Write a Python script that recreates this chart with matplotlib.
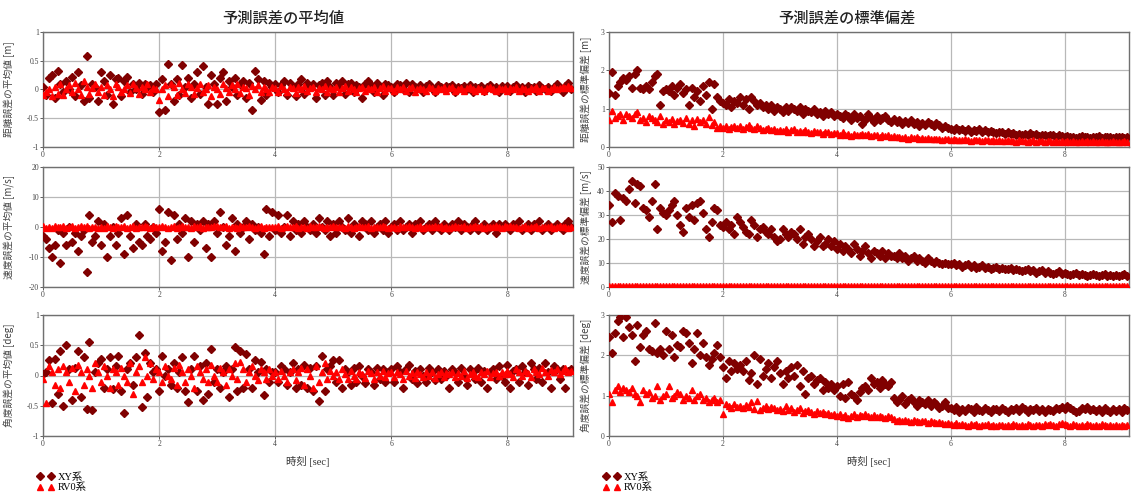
import numpy as np
import matplotlib.pyplot as plt
from matplotlib.ticker import FuncFormatter

plt.rcParams['font.family'] = ['Noto Sans CJK JP', 'DejaVu Sans']

dt = 0.05  # サンプル間隔 [sec]

# 左列: 予測誤差の平均値
d_mean_xy = [0.05, -0.1, 0.2, 0.25, -0.15, 0.32, 0.1, -0.05, 0.15, 0.0, 0.22, -0.12, 0.3, 0.08, -0.2, 0.58, -0.15, 0.1, 0.05, -0.2,
             0.3, 0.15, -0.1, 0.25, -0.25, 0.18, 0.2, -0.12, 0.15, 0.22, -0.05, 0.1, 0.0, 0.12, -0.08, 0.1, 0.05, 0.08, -0.05, 0.1,
             -0.4, 0.18, -0.35, 0.45, 0.1, -0.2, 0.18, -0.1, 0.42, 0.05, 0.2, -0.15, 0.1, 0.3, -0.08, 0.4, 0.05, -0.25, 0.25, 0.1,
             -0.25, 0.2, 0.3, -0.2, 0.15, 0.05, 0.2, -0.1, 0.1, 0.15, -0.15, 0.12, -0.35, 0.32, 0.18, -0.18, 0.15, -0.1, 0.12, 0.05,
             0.1, -0.05, 0.08, 0.15, -0.1, 0.12, 0.05, -0.12, 0.1, 0.18, -0.08, 0.12, 0.05, 0.1, -0.15, 0.08, 0.12, -0.1, 0.15, 0.05,
             -0.1, 0.12, 0.05, 0.15, -0.08, 0.1, 0.12, -0.05, 0.08, 0.05, -0.15, 0.1, 0.15, 0.08, -0.05, 0.12, 0.05, -0.1, 0.1, 0.08,
             0.05, -0.05, 0.1, 0.08, 0.0, 0.12, -0.05, 0.1, 0.05, 0.02, 0.08, -0.05, 0.06, 0.1, 0.02, -0.04, 0.08, 0.05, 0.0, 0.06,
             0.04, 0.08, -0.05, 0.05, 0.02, 0.06, 0.0, 0.08, -0.04, 0.05, 0.03, 0.06, -0.03, 0.05, 0.08, 0.0, 0.04, -0.05, 0.06, 0.02,
             0.06, -0.02, 0.05, 0.08, 0.0, 0.04, -0.04, 0.06, 0.02, 0.05, -0.03, 0.07, 0.03, 0.0, 0.05, -0.02, 0.04, 0.1, 0.02, -0.04,
             0.06, 0.12, 0.0]
d_mean_rv = [-0.1, -0.05, 0.0, -0.12, 0.05, -0.08, 0.1, -0.1, 0.0, 0.08, -0.05, 0.12, 0.0, -0.1, 0.15, 0.05, -0.08, 0.02, 0.1, -0.05,
             0.05, -0.1, 0.08, 0.0, -0.12, 0.1, 0.05, -0.05, 0.0, 0.08, -0.06, 0.1, 0.02, -0.08, 0.05, 0.0, 0.1, -0.05, 0.03, 0.0,
             -0.18, 0.0, 0.08, -0.12, 0.1, 0.05, -0.1, 0.12, 0.0, -0.06, 0.1, 0.05, -0.08, 0.02, 0.1, -0.05, 0.0, 0.08, -0.12, 0.05,
             0.0, -0.08, 0.1, 0.02, -0.05, 0.08, 0.0, 0.1, -0.06, 0.05, 0.02, -0.1, 0.06, 0.0, 0.08, -0.04, 0.05, 0.0, -0.05, 0.04,
             0.03, -0.05, 0.06, 0.0, -0.04, 0.05, 0.02, -0.06, 0.04, 0.0, 0.06, -0.03, 0.02, 0.05, -0.05, 0.03, 0.0, 0.06, -0.04, 0.02,
             0.0, 0.05, -0.04, 0.03, 0.06, -0.02, 0.04, 0.0, -0.05, 0.03, 0.05, -0.03, 0.02, 0.0, 0.05, -0.04, 0.03, 0.06, -0.02, 0.02,
             0.03, -0.03, 0.04, 0.0, 0.05, -0.02, 0.02, 0.04, -0.04, 0.01, 0.03, 0.0, -0.03, 0.04, 0.02, -0.02, 0.03, 0.0, 0.04, -0.03,
             0.02, 0.04, -0.02, 0.0, 0.03, -0.03, 0.02, 0.04, 0.0, -0.02, 0.03, 0.01, -0.03, 0.02, 0.04, 0.0, -0.02, 0.03, 0.01, 0.02,
             -0.02, 0.03, 0.0, 0.04, -0.03, 0.02, 0.01, -0.02, 0.03, 0.0, 0.04, -0.02, 0.02, 0.03, -0.03, 0.01, 0.04, 0.0, 0.02, 0.05,
             0.03, 0.06, 0.02]
v_mean_xy = [-3, -4, -7, -10, -6, -1, -12, -2, -6, 0, -5, -2, -8, -3, -1, -15, 4, -5, -3, 2,
             -6, 1, -10, -3, 0, -6, -2, 3, -9, 4, -3, -7, 1, -5, -6, 1, -3, -4, 0, -2,
             6, -8, -5, 5, -11, 4, -4, 1, -2, 3, -10, 2, -5, 1, -1, 2, -7, 1, -10, 2,
             -2, 5, 0, -6, -3, 3, -8, 1, -2, 0, 2, -4, 1, -1, 0, -2, -9, 6, -3, 5,
             -1, 4, -2, 0, 4, -3, 2, -1, 1, -2, 2, 0, -1, 1, -2, 3, 0, -1, 2, -3,
             1, -2, 2, 0, -1, 3, -2, 1, 0, -3, 2, 1, -1, 2, -2, 0, 1, -1, 2, -2,
             0, 1, -1, 2, -1, 0, 1, -2, 1, 0, 2, -1, 0, 1, -1, 2, 0, -1, 1, 0,
             -1, 1, 0, 2, -1, 1, 0, -1, 1, 2, -1, 0, 1, -1, 0, 1, -2, 1, 0, 1,
             0, -1, 1, 0, 2, -1, 0, 1, -1, 1, 0, 2, -1, 0, 1, -1, 0, 1, 0, -1,
             1, 2, 0]
v_mean_rv = [0.2, -0.2, 0.1, -0.3, 0.3, 0.0, -0.1, 0.2, -0.2, 0.1, 0.3, -0.3, 0.0, 0.2, -0.1, 0.3, -0.2, 0.1, 0.0, -0.2,
             0.1, -0.3, 0.2, 0.0, -0.2, 0.3, -0.1, 0.1, 0.2, -0.2, 0.0, 0.3, -0.3, 0.1, -0.1, 0.2, 0.0, -0.2, 0.3, 0.1,
             -0.1, 0.2, 0.0, -0.3, 0.1, 0.3, -0.2, 0.0, 0.2, -0.1, 0.1, -0.3, 0.2, 0.0, 0.3, -0.2, 0.1, -0.1, 0.0, 0.2,
             0.3, -0.1, 0.0, 0.2, -0.2, 0.1, 0.0, -0.3, 0.2, 0.1, -0.1, 0.3, 0.0, -0.2, 0.1, 0.2, -0.3, 0.0, 0.1, -0.1,
             0.0, 0.2, -0.2, 0.1, 0.3, -0.1, 0.0, 0.2, -0.3, 0.1, 0.0, -0.2, 0.2, 0.1, -0.1, 0.3, 0.0, -0.2, 0.1, 0.0,
             0.2, -0.1, 0.1, 0.0, -0.2, 0.3, 0.1, -0.3, 0.0, 0.2, -0.1, 0.1, 0.3, -0.2, 0.0, 0.1, -0.1, 0.2, 0.0, -0.3,
             0.1, 0.0, -0.2, 0.2, 0.1, -0.1, 0.3, 0.0, -0.2, 0.1, 0.2, -0.3, 0.0, 0.1, -0.1, 0.2, 0.0, 0.3, -0.2, 0.1,
             -0.2, 0.1, 0.3, 0.0, -0.1, 0.2, -0.3, 0.1, 0.0, 0.2, -0.1, 0.3, -0.2, 0.0, 0.1, -0.1, 0.2, 0.0, -0.3, 0.2,
             0.0, 0.3, -0.1, 0.1, -0.2, 0.0, 0.2, -0.3, 0.1, 0.0, 0.3, -0.2, 0.1, -0.1, 0.0, 0.2, -0.2, 0.1, 0.3, -0.1,
             0.1, -0.2, 0.0]
a_mean_xy = [0.02, 0.05, 0.25, -0.45, 0.28, -0.3, 0.4, -0.5, 0.5, 0.1, -0.4, 0.12, 0.4, -0.35, 0.3, -0.55, 0.55, -0.57, 0.05, 0.2,
             0.28, -0.2, 0.1, 0.3, -0.22, 0.15, 0.32, -0.25, -0.62, 0.1, 0.2, -0.15, 0.3, 0.67, -0.52, 0.38, -0.35, 0.2, 0.05, 0.1,
             -0.25, 0.32, 0.0, 0.1, -0.15, 0.2, -0.2, 0.05, 0.3, -0.25, -0.43, 0.1, 0.32, -0.25, 0.15, -0.4, 0.2, -0.3, 0.44, -0.1,
             0.1, -0.2, 0.05, 0.15, -0.35, 0.1, 0.47, -0.25, 0.4, -0.2, 0.35, 0.1, -0.2, 0.25, 0.05, 0.22, -0.32, 0.1, -0.1, 0.05,
             0.05, -0.1, 0.15, 0.1, -0.15, 0.05, 0.2, -0.2, 0.1, -0.15, 0.18, -0.2, 0.12, -0.25, 0.15, -0.42, 0.32, -0.25, 0.1, 0.15,
             0.25, -0.1, 0.25, -0.2, 0.1, 0.05, -0.15, 0.12, -0.1, 0.15, 0.0, -0.12, 0.1, 0.05, -0.15, 0.12, -0.05, 0.1, -0.1, 0.05,
             0.1, -0.1, 0.15, 0.05, -0.2, 0.1, 0.18, -0.05, 0.08, -0.12, 0.1, 0.0, -0.1, 0.12, 0.05, -0.08, 0.1, -0.05, 0.08, 0.0,
             -0.2, 0.1, 0.05, -0.1, 0.12, 0.0, -0.15, 0.1, 0.05, -0.05, 0.12, -0.1, 0.08, -0.2, 0.05, 0.1, -0.05, 0.15, 0.0, -0.1,
             0.18, -0.2, 0.08, 0.1, -0.1, 0.15, 0.05, -0.15, 0.2, 0.1, -0.05, 0.12, -0.1, 0.2, 0.05, -0.2, 0.15, 0.1, -0.05, 0.1,
             -0.2, 0.08, 0.1]
a_mean_rv = [-0.05, -0.45, 0.15, 0.05, -0.15, 0.1, -0.2, 0.15, 0.05, -0.1, 0.12, -0.25, 0.18, 0.05, -0.15, 0.1, 0.0, -0.2, 0.2, 0.05,
             -0.1, 0.15, 0.0, -0.2, 0.1, 0.05, -0.15, 0.12, 0.0, -0.1, 0.2, -0.3, 0.05, 0.15, -0.1, 0.3, 0.0, 0.2, -0.05, 0.1,
             0.05, -0.1, 0.15, 0.0, -0.05, 0.12, -0.15, 0.18, 0.05, -0.1, 0.1, 0.0, -0.2, 0.15, 0.05, -0.05, 0.1, -0.1, 0.18, 0.0,
             -0.1, 0.12, 0.05, -0.15, 0.1, 0.0, 0.2, -0.05, 0.22, 0.1, -0.1, 0.05, 0.15, 0.0, -0.08, 0.1, 0.05, -0.05, 0.1, 0.0,
             0.05, -0.05, 0.08, 0.0, -0.1, 0.06, 0.1, -0.08, 0.05, 0.12, -0.15, 0.1, 0.0, -0.2, 0.15, -0.1, 0.05, 0.2, -0.05, 0.08,
             0.0, 0.06, -0.05, 0.1, 0.03, -0.06, 0.08, 0.0, -0.05, 0.06, 0.02, -0.04, 0.08, 0.04, -0.06, 0.05, 0.0, 0.07, -0.03, 0.04,
             0.05, -0.03, 0.06, 0.02, -0.05, 0.07, 0.0, 0.04, -0.04, 0.06, 0.02, -0.02, 0.05, 0.0, 0.06, -0.04, 0.03, 0.05, -0.02, 0.04,
             0.02, 0.06, -0.03, 0.04, 0.0, 0.07, -0.04, 0.03, 0.05, 0.0, -0.03, 0.06, 0.02, 0.08, -0.02, 0.04, 0.06, 0.0, 0.05, 0.02,
             0.07, 0.03, -0.02, 0.1, 0.05, 0.0, 0.08, 0.04, -0.03, 0.1, 0.06, 0.02, 0.12, 0.05, 0.0, 0.09, 0.06, 0.1, 0.03, 0.08,
             0.12, 0.05, 0.08]

# 右列: 予測誤差の標準偏差
d_std_xy = [1.4, 1.95, 1.35, 1.6, 1.7, 1.8, 1.75, 1.85, 1.55, 1.9, 2.0, 1.55, 1.5, 1.6, 1.5, 1.7, 1.85, 1.9, 1.1, 1.45,
            1.5, 1.45, 1.6, 1.35, 1.55, 1.65, 1.4, 1.5, 1.1, 1.55, 1.3, 1.45, 1.2, 1.6, 1.35, 1.7, 1.0, 1.65, 1.3, 1.2,
            1.15, 1.1, 1.25, 1.05, 1.2, 1.15, 1.3, 1.1, 1.25, 1.0, 1.3, 1.2, 1.1, 1.15, 1.05, 1.1, 1.0, 1.1, 0.95, 1.05,
            1.0, 0.9, 1.05, 0.95, 1.05, 1.0, 0.95, 1.05, 0.85, 1.0, 0.95, 0.9, 1.0, 0.85, 0.9, 0.8, 0.95, 0.85, 0.9, 0.8,
            0.85, 0.8, 0.75, 0.85, 0.8, 0.7, 0.85, 0.75, 0.8, 0.6, 0.7, 0.85, 0.75, 0.65, 0.8, 0.7, 0.75, 0.8, 0.7, 0.65,
            0.72, 0.65, 0.7, 0.6, 0.68, 0.62, 0.7, 0.6, 0.65, 0.55, 0.62, 0.58, 0.66, 0.6, 0.55, 0.62, 0.58, 0.5, 0.55, 0.5,
            0.48, 0.45, 0.5, 0.44, 0.48, 0.42, 0.46, 0.4, 0.45, 0.42, 0.46, 0.4, 0.44, 0.38, 0.42, 0.4, 0.36, 0.4, 0.38, 0.35,
            0.38, 0.34, 0.36, 0.32, 0.35, 0.3, 0.34, 0.32, 0.36, 0.3, 0.33, 0.29, 0.32, 0.3, 0.28, 0.32, 0.3, 0.27, 0.3, 0.28,
            0.26, 0.28, 0.25, 0.27, 0.24, 0.26, 0.28, 0.25, 0.27, 0.24, 0.26, 0.25, 0.28, 0.24, 0.26, 0.27, 0.25, 0.23, 0.26, 0.25,
            0.27, 0.24, 0.26]
d_std_rv = [0.7, 0.95, 0.75, 0.8, 0.85, 0.7, 0.85, 0.8, 0.75, 0.85, 0.9, 0.7, 0.75, 0.65, 0.8, 0.75, 0.7, 0.65, 0.8, 0.6,
            0.7, 0.65, 0.72, 0.6, 0.68, 0.7, 0.62, 0.75, 0.6, 0.7, 0.55, 0.72, 0.65, 0.7, 0.6, 0.78, 0.58, 0.65, 0.5, 0.55,
            0.5, 0.55, 0.48, 0.52, 0.56, 0.5, 0.54, 0.47, 0.52, 0.58, 0.5, 0.48, 0.55, 0.5, 0.45, 0.48, 0.5, 0.44, 0.47, 0.42,
            0.45, 0.42, 0.48, 0.4, 0.44, 0.46, 0.4, 0.42, 0.38, 0.44, 0.4, 0.36, 0.42, 0.38, 0.4, 0.35, 0.38, 0.4, 0.34, 0.36,
            0.36, 0.32, 0.38, 0.3, 0.34, 0.28, 0.35, 0.32, 0.3, 0.34, 0.3, 0.33, 0.28, 0.32, 0.3, 0.26, 0.32, 0.29, 0.3, 0.27,
            0.28, 0.25, 0.27, 0.24, 0.26, 0.22, 0.25, 0.23, 0.26, 0.22, 0.24, 0.2, 0.23, 0.21, 0.22, 0.2, 0.22, 0.19, 0.21, 0.2,
            0.19, 0.2, 0.18, 0.19, 0.17, 0.2, 0.18, 0.16, 0.19, 0.17, 0.18, 0.16, 0.18, 0.17, 0.15, 0.18, 0.16, 0.17, 0.15, 0.16,
            0.17, 0.15, 0.16, 0.14, 0.17, 0.15, 0.16, 0.14, 0.15, 0.17, 0.14, 0.16, 0.15, 0.13, 0.16, 0.15, 0.14, 0.16, 0.13, 0.15,
            0.14, 0.16, 0.13, 0.15, 0.14, 0.12, 0.15, 0.14, 0.16, 0.13, 0.15, 0.12, 0.14, 0.15, 0.13, 0.14, 0.12, 0.15, 0.13, 0.14,
            0.13, 0.15, 0.14]
v_std_xy = [34, 27, 39, 38, 28, 37, 36, 41, 44, 35, 43, 42, 33, 32, 29, 36, 43, 24, 33, 31,
            30, 32, 34, 36, 30, 26, 23, 33, 29, 34, 28, 35, 36, 31, 24, 21, 27, 33, 32, 26,
            25, 27, 24, 26, 22, 29, 27, 25, 23, 22, 28, 26, 21, 24, 25, 23, 22, 24, 21, 19,
            20, 24, 22, 21, 23, 22, 20, 24, 18, 21, 22, 20, 17, 19, 21, 17, 18, 20, 17, 19,
            16, 18, 15, 17, 16, 14, 18, 16, 13, 15, 17, 14, 12, 15, 14, 13, 15, 12, 14, 13,
            13, 12, 14, 12, 13, 11, 12, 13, 11, 12, 11, 10, 12, 11, 10, 11, 10, 9.5, 10, 9.5,
            9.5, 10, 9, 9.5, 8.5, 9, 9.5, 8.5, 9, 8, 8.5, 9, 8, 8.5, 7.5, 8, 8.5, 7.5, 8, 7.5,
            7.5, 8, 7, 7.5, 7, 6.5, 7, 7.5, 6.5, 7, 6, 6.5, 7, 6, 6.5, 6, 5.5, 6, 6.5, 5.5,
            6, 5.5, 5, 5.5, 6, 5, 5.5, 5, 4.5, 5, 5.5, 5, 4.5, 5, 5.5, 4.5, 5, 4.5, 5, 4.5,
            5, 5.5, 4.5]
v_std_rv = [0.4, 0.3, 0.35, 0.3, 0.4, 0.35, 0.3, 0.4, 0.3, 0.35, 0.4, 0.3, 0.35, 0.3, 0.4, 0.35, 0.3, 0.35, 0.4, 0.3,
            0.35, 0.3, 0.4, 0.35, 0.3, 0.35, 0.4, 0.3, 0.35, 0.3, 0.4, 0.35, 0.3, 0.4, 0.3, 0.35, 0.3, 0.4, 0.35, 0.3,
            0.35, 0.4, 0.3, 0.35, 0.3, 0.4, 0.35, 0.3, 0.35, 0.4, 0.3, 0.35, 0.3, 0.35, 0.4, 0.3, 0.35, 0.3, 0.4, 0.35,
            0.3, 0.35, 0.4, 0.3, 0.35, 0.3, 0.35, 0.4, 0.3, 0.35, 0.3, 0.4, 0.35, 0.3, 0.35, 0.3, 0.4, 0.35, 0.3, 0.35,
            0.3, 0.35, 0.3, 0.4, 0.35, 0.3, 0.35, 0.3, 0.35, 0.4, 0.3, 0.35, 0.3, 0.35, 0.3, 0.4, 0.35, 0.3, 0.35, 0.3,
            0.35, 0.3, 0.35, 0.3, 0.35, 0.4, 0.3, 0.35, 0.3, 0.35, 0.3, 0.35, 0.4, 0.3, 0.35, 0.3, 0.35, 0.3, 0.35, 0.3,
            0.3, 0.35, 0.3, 0.35, 0.3, 0.35, 0.3, 0.4, 0.35, 0.3, 0.35, 0.3, 0.35, 0.3, 0.35, 0.3, 0.35, 0.4, 0.3, 0.35,
            0.35, 0.3, 0.35, 0.3, 0.35, 0.3, 0.35, 0.3, 0.35, 0.4, 0.3, 0.35, 0.3, 0.35, 0.3, 0.35, 0.3, 0.35, 0.3, 0.35,
            0.3, 0.35, 0.3, 0.35, 0.3, 0.35, 0.4, 0.3, 0.35, 0.3, 0.35, 0.3, 0.35, 0.3, 0.35, 0.3, 0.35, 0.3, 0.35, 0.3,
            0.35, 0.3, 0.35]
a_std_xy = [2.45, 2.05, 2.55, 2.85, 2.95, 2.45, 2.95, 2.7, 2.5, 1.85, 2.75, 2.2, 2.5, 2.6, 2.15, 2.1, 2.8, 2.05, 2.15, 2.0,
            2.6, 2.15, 2.5, 1.95, 2.25, 2.2, 2.6, 2.55, 2.3, 1.8, 2.15, 2.55, 2.0, 2.3, 1.95, 1.75, 1.9, 2.05, 2.25, 1.95,
            1.7, 1.45, 1.85, 1.6, 1.8, 1.65, 1.75, 1.6, 1.85, 1.4, 1.55, 2.0, 1.3, 1.9, 1.5, 1.65, 1.8, 1.45, 1.7, 1.85,
            1.55, 1.3, 1.6, 1.45, 1.7, 1.5, 1.75, 1.25, 1.6, 1.05, 1.45, 1.5, 1.3, 1.4, 1.45, 1.15, 1.35, 1.2, 1.3, 1.15,
            1.25, 1.0, 1.3, 0.95, 1.35, 1.05, 1.0, 0.9, 1.1, 1.2, 1.25, 1.15, 1.45, 1.3, 1.35, 1.2, 1.4, 1.3, 1.25, 1.35,
            0.95, 0.85, 0.9, 1.0, 0.8, 0.9, 0.95, 0.85, 0.75, 0.9, 0.85, 0.8, 0.9, 0.75, 0.85, 0.8, 0.7, 0.75, 0.85, 0.7,
            0.7, 0.65, 0.72, 0.6, 0.68, 0.62, 0.7, 0.66, 0.6, 0.72, 0.65, 0.62, 0.7, 0.64, 0.6, 0.68, 0.66, 0.62, 0.7, 0.64,
            0.6, 0.68, 0.65, 0.7, 0.62, 0.72, 0.66, 0.6, 0.68, 0.64, 0.7, 0.62, 0.66, 0.6, 0.68, 0.65, 0.62, 0.7, 0.66, 0.72,
            0.68, 0.75, 0.7, 0.65, 0.6, 0.62, 0.7, 0.66, 0.72, 0.64, 0.68, 0.62, 0.66, 0.6, 0.7, 0.64, 0.6, 0.66, 0.62, 0.68,
            0.6, 0.7, 0.65]
a_std_rv = [1.05, 0.85, 1.15, 1.25, 1.1, 1.2, 1.15, 1.1, 1.2, 1.05, 1.0, 0.85, 1.15, 1.05, 1.1, 0.95, 1.0, 1.25, 0.9, 1.0,
            1.05, 1.25, 0.95, 1.0, 1.1, 1.05, 0.9, 1.0, 0.95, 1.15, 0.9, 1.0, 1.05, 0.9, 0.95, 0.85, 0.9, 0.95, 0.85, 0.9,
            0.55, 0.8, 0.75, 0.7, 0.8, 0.72, 0.75, 0.7, 0.78, 0.72, 0.85, 0.68, 0.88, 0.65, 0.7, 0.75, 0.68, 0.72, 0.7, 0.65,
            0.68, 0.62, 0.75, 0.65, 0.7, 0.6, 0.65, 0.7, 0.58, 0.62, 0.65, 0.6, 0.55, 0.62, 0.58, 0.6, 0.55, 0.58, 0.52, 0.55,
            0.5, 0.55, 0.48, 0.52, 0.45, 0.5, 0.55, 0.48, 0.52, 0.5, 0.55, 0.5, 0.48, 0.52, 0.46, 0.5, 0.48, 0.45, 0.5, 0.46,
            0.42, 0.38, 0.4, 0.36, 0.4, 0.38, 0.35, 0.4, 0.37, 0.34, 0.38, 0.36, 0.33, 0.36, 0.34, 0.32, 0.35, 0.33, 0.3, 0.33,
            0.3, 0.28, 0.31, 0.27, 0.3, 0.28, 0.26, 0.29, 0.27, 0.3, 0.26, 0.28, 0.27, 0.29, 0.26, 0.28, 0.25, 0.28, 0.27, 0.26,
            0.28, 0.26, 0.29, 0.27, 0.25, 0.28, 0.26, 0.29, 0.27, 0.25, 0.28, 0.27, 0.26, 0.29, 0.27, 0.3, 0.28, 0.26, 0.29, 0.32,
            0.3, 0.28, 0.26, 0.29, 0.27, 0.25, 0.28, 0.26, 0.29, 0.27, 0.25, 0.28, 0.26, 0.29, 0.27, 0.25, 0.28, 0.26, 0.27, 0.25,
            0.28, 0.26, 0.27]

c_xy = '#800000'
c_rv = '#ff0000'
serif = ['Liberation Serif', 'Noto Sans CJK JP']

W, H = 1136, 498
fig = plt.figure(figsize=(W / 100, H / 100), dpi=100)

# 各軸の位置 [px]: (左, 右) / (上, 下)
cols = [(43, 573), (609, 1129)]
rows = [(32, 147), (167, 287), (315, 436)]

panels = [
    [(d_mean_xy, d_mean_rv, (-1, 1), [-1, -0.5, 0, 0.5, 1], '距離誤差の平均値 [m]'),
     (v_mean_xy, v_mean_rv, (-20, 20), [-20, -10, 0, 10, 20], '速度誤差の平均値 [m/s]'),
     (a_mean_xy, a_mean_rv, (-1, 1), [-1, -0.5, 0, 0.5, 1], '角度誤差の平均値 [deg]')],
    [(d_std_xy, d_std_rv, (0, 3), [0, 1, 2, 3], '距離誤差の標準偏差 [m]'),
     (v_std_xy, v_std_rv, (0, 50), [0, 10, 20, 30, 40, 50], '速度誤差の標準偏差 [m/s]'),
     (a_std_xy, a_std_rv, (0, 3), [0, 1, 2, 3], '角度誤差の標準偏差 [deg]')],
]

fmt = FuncFormatter(lambda v, p: '%g' % v)

for ci, (x0, x1) in enumerate(cols):
    for ri, (y0, y1) in enumerate(rows):
        xy, rv, ylim, yt, ylab = panels[ci][ri]
        ax = fig.add_axes([x0 / W, 1 - y1 / H, (x1 - x0) / W, (y1 - y0) / H])
        t_xy = np.arange(len(xy)) * dt
        t_rv = np.arange(len(rv)) * dt
        h1, = ax.plot(t_xy, xy, 'D', color=c_xy, ms=3.7, mec=c_xy, label='XY系', zorder=3)
        h2, = ax.plot(t_rv, rv, '^', color=c_rv, ms=4.3, mec=c_rv, label='RV0系', zorder=4)
        ax.set_xlim(0, 9.13)
        ax.set_ylim(*ylim)
        ax.set_xticks([0, 2, 4, 6, 8])
        ax.set_yticks(yt)
        ax.yaxis.set_major_formatter(fmt)
        ax.grid(True, color='#b8b8b8', lw=0.9)
        ax.set_axisbelow(True)
        for s in ax.spines.values():
            s.set_color('#707070')
            s.set_linewidth(1.0)
        ax.tick_params(length=2, width=0.6, pad=1, labelsize=5.5, colors='#444444')
        for lab in ax.get_xticklabels() + ax.get_yticklabels():
            lab.set_family(serif)
        ax.set_ylabel(ylab, fontsize=7, color='#444444')
        ax.yaxis.set_label_coords(-0.053 if ci == 0 else -0.033, 0.5)

    cx = (x0 + x1) / 2
    fig.text(cx / W, 1 - 461 / H, '時刻 [sec]', ha='center', va='center',
             fontsize=7.5, family=serif, color='#333333')
    fig.legend(handles=[h1, h2], loc='upper left',
               bbox_to_anchor=((x0 - 8) / W, 1 - 470 / H), numpoints=2,
               frameon=False, prop={'family': serif, 'size': 7.5},
               handlelength=1.6, handletextpad=0.4, labelspacing=0.1,
               borderpad=0.2, borderaxespad=0)

fig.text(283 / W, 1 - 18 / H, '予測誤差の平均値', ha='center', va='center',
         fontsize=11, fontweight='medium', color='#222222')
fig.text(847 / W, 1 - 18 / H, '予測誤差の標準偏差', ha='center', va='center',
         fontsize=11, fontweight='medium', color='#222222')

fig.savefig('out.png', dpi=100)
